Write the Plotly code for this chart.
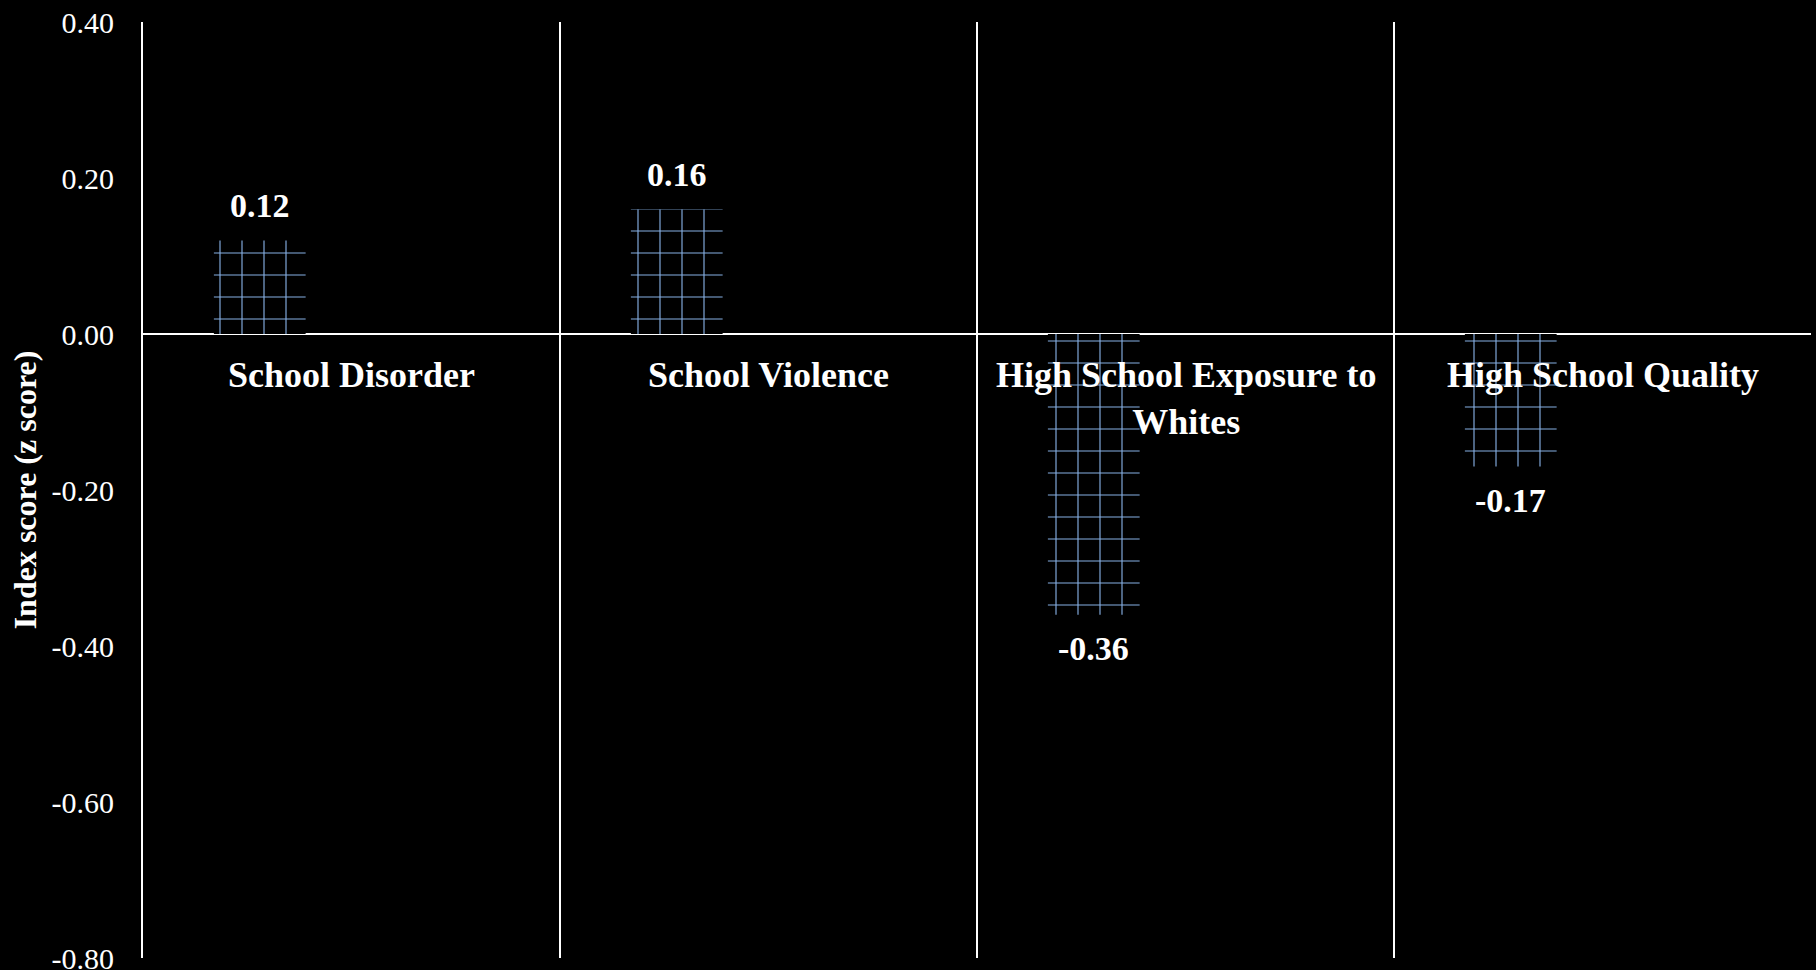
import plotly.graph_objects as go

categories = ["School Disorder", "School Violence", "High School Exposure to<br>Whites", "High School Quality"]
values = [0.12, 0.16, -0.36, -0.17]
value_labels = ["0.12", "0.16", "-0.36", "-0.17"]
y_ticks = [0.4, 0.2, 0.0, -0.2, -0.4, -0.6, -0.8]
y_ticktext = ["0.40", "0.20", "0.00", "-0.20", "-0.40", "-0.60", "-0.80"]

FONT = "Garamond, 'Liberation Serif', 'DejaVu Serif', serif"
BAR_OFFSET = -0.33
BAR_WIDTH = 0.22

fig = go.Figure()
fig.add_trace(go.Bar(
    x=list(range(len(categories))),
    y=values,
    width=BAR_WIDTH,
    offset=BAR_OFFSET,
    marker=dict(
        color="black",
        line=dict(width=0),
        pattern=dict(shape="+", fgcolor="#86B0E4", bgcolor="black", fgopacity=1,
                     size=22, solidity=0.1, fillmode="overlay"),
    ),
    hoverinfo="skip",
    showlegend=False,
))

for i, (v, lab) in enumerate(zip(values, value_labels)):
    fig.add_annotation(
        x=i + BAR_OFFSET + BAR_WIDTH / 2, y=v, xref="x", yref="y",
        yanchor="bottom" if v >= 0 else "top",
        yshift=14 if v >= 0 else -13,
        text="<b>" + lab + "</b>", showarrow=False,
        font=dict(family=FONT, size=34, color="white"),
    )

for i, c in enumerate(categories):
    fig.add_annotation(
        x=i, y=0, xref="x", yref="y", yanchor="top", yshift=-19,
        text="<b>" + c + "</b>", showarrow=False,
        font=dict(family=FONT, size=36, color="white"),
    )

fig.update_layout(
    width=1816, height=970,
    paper_bgcolor="black", plot_bgcolor="black",
    margin=dict(l=143, r=5, t=22, b=12, autoexpand=False),
    font=dict(family=FONT, color="white"),
    xaxis=dict(
        type="linear", range=[-0.5, len(categories) - 0.5],
        tickvals=[i + 0.5 for i in range(-1, len(categories))],
        showticklabels=False, showgrid=True,
        gridcolor="white", gridwidth=2, zeroline=False, showline=False,
        ticks="", automargin=False,
    ),
    yaxis=dict(
        range=[-0.8, 0.4], tickvals=y_ticks, ticktext=y_ticktext,
        tickfont=dict(family=FONT, size=30, color="white"),
        showgrid=False, zeroline=True, zerolinecolor="white", zerolinewidth=2,
        showline=True, linecolor="white", linewidth=2,
        ticks="outside", ticklen=0, ticklabelstandoff=21,
        ticklabeloverflow="allow", automargin=False,
        title=dict(text="<b>Index score (z score)</b>", font=dict(family=FONT, size=32, color="white"), standoff=5),
    ),
)

fig.write_html(
    "out.html",
    config={"displayModeBar": False},
    post_script="document.body.style.margin='0';document.body.style.background='black';document.body.style.overflow='hidden';",
)
